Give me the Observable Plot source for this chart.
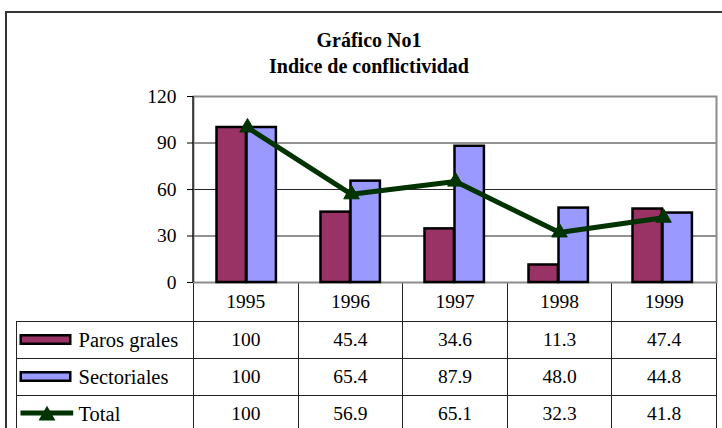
<!DOCTYPE html>
<html><head><meta charset="utf-8">
<script src="https://cdn.jsdelivr.net/npm/d3@7"></script>
<script src="https://cdn.jsdelivr.net/npm/@observablehq/plot@0.6"></script>
<style>
html,body{margin:0;padding:0;background:#fff;overflow:hidden;width:722px;height:428px}
body{position:relative;font-family:'Liberation Serif',serif;color:#000}
#frame{position:absolute;left:5px;top:11px;width:760px;height:460px;border-left:2px solid #333;border-top:2px solid #333;box-sizing:border-box}
#title{position:absolute;left:0;top:28px;width:738px;text-align:center;font-family:'Liberation Serif',serif;font-weight:bold;font-size:20px;line-height:25.5px}
#chart{position:absolute;left:0;top:0}
#table{position:absolute;left:15.5px;top:282px;border-collapse:collapse;table-layout:fixed;width:700.5px;font-family:'Liberation Serif',serif}
#table td{border:1px solid #222;padding:0;text-align:center;font-family:'Liberation Serif',serif;font-size:19.5px;line-height:22px}
#table td.legend{text-align:left;font-size:20.5px}
#table td.legend div{display:flex;align-items:center;padding-left:1px}
#table td.corner{border-top:hidden;border-left:hidden}
#table tr.head td{border-top:none}
</style></head><body>
<div id="frame"></div>
<div id="title"></div>
<table id="table"></table>
<div id="chart"></div>
<script>
const titleLines = ["Gráfico No1", "Indice de conflictividad"];
const years = ["1995", "1996", "1997", "1998", "1999"];
const seriesNames = ["Paros grales", "Sectoriales", "Total"];
const parosGrales = [100, 45.4, 34.6, 11.3, 47.4];
const sectoriales = [100, 65.4, 87.9, 48.0, 44.8];
const total = [100, 56.9, 65.1, 32.3, 41.8];
const yTicks = [0, 30, 60, 90, 120];
const colors = ["#993366", "#9999ff", "#003300"];

const rows = years.map((year, i) => ({year, paros: parosGrales[i], sect: sectoriales[i], total: total[i]}));
const fmt = v => v === 100 ? "100" : v.toFixed(1);

// Title
const titleEl = document.getElementById("title");
titleLines.forEach(t => { const d = document.createElement("div"); d.textContent = t; titleEl.appendChild(d); });

// Left axis line (render function mark)
const leftLine = (index, scales, values, dims) => {
  const l = document.createElementNS("http://www.w3.org/2000/svg", "line");
  l.setAttribute("x1", dims.marginLeft); l.setAttribute("x2", dims.marginLeft);
  l.setAttribute("y1", dims.marginTop); l.setAttribute("y2", dims.height - dims.marginBottom);
  l.setAttribute("stroke", "#000"); l.setAttribute("stroke-width", 1.2);
  return l;
};

const chart = Plot.plot({
  width: 722, height: 284,
  marginTop: 96, marginBottom: 2, marginLeft: 193, marginRight: 6,
  style: {fontFamily: "Liberation Serif, serif", fontSize: "19.5px", color: "#000", background: "transparent", overflow: "visible"},
  x: {type: "band", domain: years, padding: 0, axis: null},
  y: {domain: [0, 120], axis: null},
  marks: [
    Plot.gridY(yTicks.slice(1, -1), {stroke: "#000", strokeOpacity: 0.85}),
    Plot.frame({stroke: "#8c8c8c", strokeWidth: 2}),
    Plot.barY(rows, {x: "year", y: "paros", fill: colors[0], stroke: "#000", strokeWidth: 2.5, insetLeft: 21.5, insetRight: 53.1}),
    Plot.barY(rows, {x: "year", y: "sect", fill: colors[1], stroke: "#000", strokeWidth: 2.5, insetLeft: 51.5, insetRight: 23.1}),
    Plot.line(rows, {x: "year", y: "total", stroke: colors[2], strokeWidth: 5}),
    Plot.dot(rows, {x: "year", y: "total", symbol: "triangle", r: 5.8, fill: colors[2], stroke: colors[2], strokeWidth: 1}),
    Plot.axisY(yTicks, {tickSize: 6, tickPadding: 11, label: null, stroke: "#000", fontFamily: "Liberation Serif, serif"}),
    leftLine
  ]
});
document.getElementById("chart").appendChild(chart);

// Data table
const table = document.getElementById("table");
const colgroup = document.createElement("colgroup");
[177.5, ...years.map(() => 104.6)].forEach(w => { const c = document.createElement("col"); c.style.width = w + "px"; colgroup.appendChild(c); });
table.appendChild(colgroup);
const rowHeights = [39.7, 36.6, 37, 37];
const head = document.createElement("tr"); head.className = "head"; head.style.height = rowHeights[0] + "px";
const corner = document.createElement("td"); corner.className = "corner"; head.appendChild(corner);
years.forEach(y => { const td = document.createElement("td"); td.textContent = y; head.appendChild(td); });
table.appendChild(head);

function swatch(i) {
  const ns = "http://www.w3.org/2000/svg";
  const s = document.createElementNS(ns, "svg");
  s.setAttribute("width", 61); s.setAttribute("height", 18);
  s.style.flex = "none";
  if (i < 2) {
    const r = document.createElementNS(ns, "rect");
    r.setAttribute("x", 2.75); r.setAttribute("y", 4.25); r.setAttribute("width", 49.5); r.setAttribute("height", 8.5);
    r.setAttribute("fill", colors[i]); r.setAttribute("stroke", "#000"); r.setAttribute("stroke-width", 2.5);
    s.appendChild(r);
  } else {
    const l = document.createElementNS(ns, "line");
    l.setAttribute("x1", 2.5); l.setAttribute("x2", 55.2); l.setAttribute("y1", 8); l.setAttribute("y2", 8);
    l.setAttribute("stroke", colors[2]); l.setAttribute("stroke-width", 5);
    s.appendChild(l);
    const p = document.createElementNS(ns, "path");
    const sym = d3.symbol(d3.symbolTriangle, 125)();
    p.setAttribute("d", sym); p.setAttribute("transform", "translate(29,10.5)");
    p.setAttribute("fill", colors[2]);
    s.appendChild(p);
  }
  return s;
}

const seriesValues = [parosGrales, sectoriales, total];
seriesNames.forEach((name, i) => {
  const tr = document.createElement("tr"); tr.style.height = rowHeights[i + 1] + "px";
  const lg = document.createElement("td"); lg.className = "legend";
  const div = document.createElement("div");
  div.appendChild(swatch(i));
  const sp = document.createElement("span"); sp.textContent = name; div.appendChild(sp);
  lg.appendChild(div); tr.appendChild(lg);
  seriesValues[i].forEach(v => { const td = document.createElement("td"); td.textContent = fmt(v); tr.appendChild(td); });
  table.appendChild(tr);
});
</script>
</body></html>
